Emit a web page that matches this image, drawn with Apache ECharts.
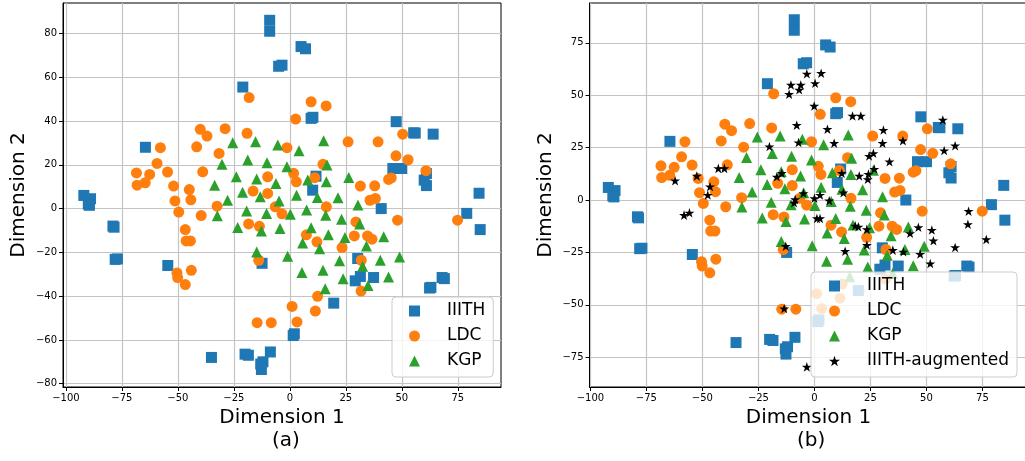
<!DOCTYPE html>
<html>
<head>
<meta charset="utf-8">
<script src="https://cdn.jsdelivr.net/npm/echarts@6/dist/echarts.min.js"></script>
<style>
  html, body { margin: 0; padding: 0; background: #fff; }
  #main { width: 1025px; height: 461px; }
</style>
</head>
<body>
<div id="main"></div>
<script>
// t-SNE points, [dim1, dim2]
var iiith = [
  [-9, 86], [-9, 81], [5, 74], [7, 73], [-3.5, 65.5], [-5, 65], [-21, 55.5], [-64.5, 28],
  [-92, 6], [-89, 4.5], [-90, 2], [-89.5, 1.5], [-79, -8], [-78.5, -8.5], [-77, -23], [-78, -23.2],
  [-54.5, -26], [-12.4, -25], [2, -57.2], [1.5, -58], [-35, -68], [-20, -66.5], [-18.5, -67],
  [-8.7, -65.5], [-13, -71], [-12, -70], [-12.7, -73.5], [10.3, 41.7], [9.5, 41.2], [47.5, 39.7],
  [55.3, 34.6], [56, 34.5], [64, 34], [46, 18.3], [50, 18.3], [61, 16], [60, 13], [61, 10.5],
  [11.7, 14.8], [10.2, 8.4], [84.5, 7], [79, -2.2], [85, -9.6], [40.8, 0], [30.3, -22.8],
  [31.5, -31], [29.2, -33], [37.4, -31.5], [62.4, -36.3], [63, -36], [68, -31.5], [69, -32], [19.6, -43.2]
];
var ldc = [
  [-18.2, 50.7], [9.5, 48.8], [16.2, 46.9], [2.6, 40.9], [-40, 36.2], [-37, 33.1], [-28.9, 36.5],
  [-19.1, 34.4], [-41.6, 28.2], [-57.8, 27.8], [-31.6, 25.2], [-1.3, 27.8], [26, 30.5], [39.4, 30.5],
  [50.4, 34], [47.4, 24.1], [52.8, 22.3], [14.8, 20.2], [-59.3, 20.6], [-68.5, 16.3], [-62.6, 15.6],
  [-54.6, 16.7], [-38.9, 16.8], [-9.9, 14.5], [1.7, 16.1], [2.9, 12.2], [11.1, 14.1], [60.8, 17.3],
  [-68.2, 10.7], [-64.6, 11.8], [-51.9, 10.3], [-44.9, 8.7], [-16.4, 8], [-9.9, 6.9], [31.5, 10.3],
  [37.9, 10.4], [44.1, 13.3], [45.3, 14], [-51.3, 3.5], [-44.2, 4], [35.8, 3.8], [38.2, 4.6],
  [-49.6, -1.6], [-32.5, 1.1], [-39.6, -3.2], [-6.5, 0.8], [-3.5, -2.4], [16.3, 0.8], [-46.7, -9.6],
  [-46.3, -14.8], [-44.4, -14.8], [-18.4, -7], [-13.6, -8.1], [7.4, -12], [12.1, -15.2], [28.8, -12.5],
  [34.7, -12.5], [36.7, -14], [23.3, -17.8], [29.5, -6.1], [48.1, -5.3], [74.9, -5.3], [-13.9, -23.6],
  [31.9, -23.6], [-50.4, -29.4], [-50.1, -31.5], [-44, -28.2], [-46.7, -34.7], [31.8, -37.7],
  [12.4, -40.1], [11.4, -46.8], [1, -44.7], [-14.6, -52.1], [-8.3, -52.1], [3.2, -51.8]
];
var kgp = [
  [-25.5, 30.1], [-15.3, 30.5], [-5.4, 29], [4.1, 26.4], [15.1, 31], [-30.3, 20.3], [-18.8, 22.2],
  [-10.2, 20.9], [-1.3, 19.1], [16.6, 19.9], [-23.9, 14.5], [-14.8, 13.5], [-6.2, 11.5], [8, 13],
  [16.3, 12.2], [26.3, 14.2], [-33.6, 10.7], [-21.1, 7.4], [-13.2, 5.4], [-4.8, 3.5], [3, 6.1],
  [12.3, 5.1], [21.5, 4.9], [-27.8, 3.8], [-19.3, -1.1], [-10.4, -2.2], [0.2, -2.6], [7.5, -0.7],
  [16, -3], [23.1, -4.9], [30.4, 1.6], [31.2, -7.1], [-32.4, -3.3], [-23.3, -8.6], [-12.7, -10.3],
  [-4.4, -9.1], [9.5, -8.8], [17.2, -11.9], [24.6, -13.2], [5.7, -15.7], [13.3, -18.3], [34.2, -17.1],
  [41.9, -12.9], [-14.8, -19.8], [-1, -21.8], [22.2, -23.8], [40.4, -23.6], [49, -22.1], [5.4, -29.2],
  [14.8, -28.2], [23.8, -32], [32.5, -26.4], [44.1, -31.3], [34.9, -35.1], [15.8, -36.6]
];
var augmented = [
  [-3.4, 60.2], [3, 60.5], [-10.5, 54.9], [-6.1, 54.9], [0.3, 55.7], [-11.3, 50.5], [-6.8, 52.6],
  [-0.1, 44.9], [17, 40.1], [20.7, 40.1], [-7.9, 35.7], [5.8, 33.8], [30.8, 33.4], [-7.1, 27.4],
  [8.8, 27.1], [30.4, 27.1], [39.5, 28.3], [-20.1, 25.5], [26.3, 22.3], [24.4, 21], [33.5, 18.3],
  [57.3, 38.2], [57.9, 23.6], [62.8, 25.9], [-42.9, 15.1], [-40.2, 15.1], [-52.5, 11.5], [-62.2, 9.2],
  [-46.6, 6.4], [-47.6, 2.4], [-16.8, 11.1], [-14.6, 12.8], [12.2, 12.8], [20, 11.5], [24.1, 12.4],
  [26.7, 14.8], [23.8, 9.9], [-4.9, 3.2], [-8.6, 0.3], [-9.1, -1.3], [0, 0.8], [2.5, 2.4], [6.6, -0.3],
  [12.9, 3.5], [-58.2, -7.2], [-55.8, -6.1], [1.1, -8.8], [2.5, -8.8], [18.2, -12.3], [19.6, -12.8],
  [23.4, -14], [46.4, -13], [42.7, -15.9], [52.4, -14.3], [53.1, -19.4], [23.4, -21.5], [13.7, -24.4],
  [35, -23.9], [39.7, -24.7], [47.2, -25.8], [51.7, -30.3], [-12.8, -22], [62.8, -22.6], [68.8, -5.3],
  [68.5, -11.6], [76.7, -18.8], [-13.5, -51.8], [-3.4, -79.6]
];

var xTicks = [-100, -75, -50, -25, 0, 25, 50, 75];
var yTicksA = [-80, -60, -40, -20, 0, 20, 40, 60, 80];
var yTicksB = [-75, -50, -25, 0, 25, 50, 75];

var FONT = 'DejaVu Sans';
var starPath = 'path://M100 0 L122.45 69.1 L195.1 69.1 L136.3 111.8 L158.8 180.9 L100 138.2 L41.2 180.9 L63.7 111.8 L4.9 69.1 L77.55 69.1 Z';

function fmt(v) { return String(v).replace('-', '\u2212'); }

function makeAxis(idx, min, max, ticks, name, gap) {
  return {
    type: 'value', gridIndex: idx, min: min, max: max,
    name: name, nameLocation: 'middle', nameGap: gap,
    nameTextStyle: { fontFamily: FONT, fontSize: 20, color: '#000' },
    axisLine: { show: true, onZero: false, lineStyle: { color: '#000', width: 1 } },
    axisTick: { show: true, inside: false, length: 4, customValues: ticks, lineStyle: { color: '#000' } },
    axisLabel: { customValues: ticks, formatter: fmt, fontFamily: FONT, fontSize: 10, color: '#000', margin: 6 },
    splitLine: { show: true, lineStyle: { color: '#c4c4c4', width: 1.2 } }
  };
}

function pts(name, data, symbol, size, color, idx) {
  return {
    type: 'scatter', name: name, data: data, xAxisIndex: idx, yAxisIndex: idx,
    symbol: symbol, symbolSize: size, symbolKeepAspect: true,
    itemStyle: { color: color, opacity: 1 }, silent: true
  };
}

// legend icons kept square; text pushed right with padding
function legend(left, top, names, padLeft) {
  return {
    data: names, orient: 'vertical', left: left, top: top,
    padding: [4, 8, 6, padLeft], itemWidth: 11, itemHeight: 11, itemGap: 5,
    backgroundColor: 'rgba(255,255,255,0.8)', borderColor: '#cccccc', borderWidth: 1, borderRadius: 4,
    selectedMode: false,
    textStyle: { fontFamily: FONT, fontSize: 17, color: '#000', lineHeight: 20, padding: [0, 0, 0, 22] }
  };
}

var chart = echarts.init(document.getElementById('main'), null, { renderer: 'canvas' });
chart.setOption({
  animation: false,
  backgroundColor: '#fff',
  grid: [
    { left: 63, top: 3, width: 438, height: 384, show: true, borderColor: '#000', borderWidth: 1, containLabel: false, outerBoundsMode: 'none' },
    { left: 589.5, top: 3, width: 438, height: 384, show: true, borderColor: '#000', borderWidth: 1, containLabel: false, outerBoundsMode: 'none' }
  ],
  xAxis: [
    makeAxis(0, -101.3, 94.3, xTicks, 'Dimension 1', 18),
    makeAxis(1, -100.4, 95.1, xTicks, 'Dimension 1', 18)
  ],
  yAxis: [
    makeAxis(0, -81.5, 93.9, yTicksA, 'Dimension 2', 34),
    makeAxis(1, -89.2, 94, yTicksB, 'Dimension 2', 34)
  ],
  legend: [
    legend(392, 297, ['IIITH', 'LDC', 'KGP'], 17),
    legend(811, 272, ['IIITH', 'LDC', 'KGP', 'IIITH-augmented'], 18)
  ],
  graphic: [
    { type: 'text', left: 272, top: 431, style: { text: '(a)', font: '20px "DejaVu Sans"', fill: '#000' } },
    { type: 'text', left: 797, top: 431, style: { text: '(b)', font: '20px "DejaVu Sans"', fill: '#000' } }
  ],
  series: [
    pts('IIITH', iiith, 'rect', 11, '#1f77b4', 0),
    pts('LDC', ldc, 'circle', 11, '#ff7f0e', 0),
    pts('KGP', kgp, 'triangle', 11, '#2ca02c', 0),
    pts('IIITH', iiith, 'rect', 11, '#1f77b4', 1),
    pts('LDC', ldc, 'circle', 11, '#ff7f0e', 1),
    pts('KGP', kgp, 'triangle', 11, '#2ca02c', 1),
    pts('IIITH-augmented', augmented, starPath, 10, '#000', 1)
  ]
});
</script>
</body>
</html>
